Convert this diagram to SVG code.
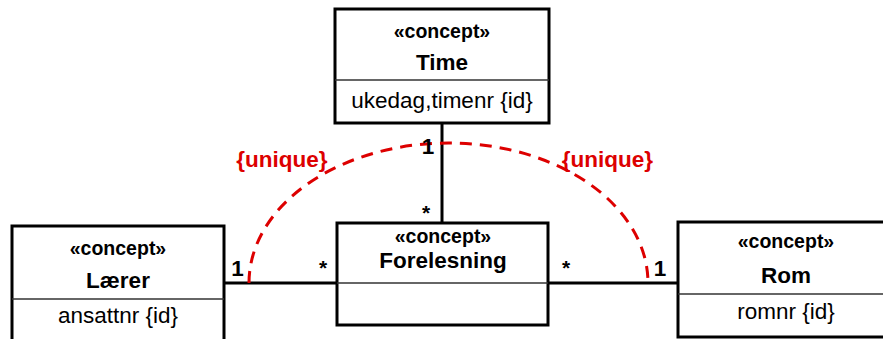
<svg xmlns="http://www.w3.org/2000/svg" width="883" height="339" viewBox="0 0 883 339">
<style>
.box{fill:#fff;stroke:#000;stroke-width:3}
.sep{stroke:#333;stroke-width:1.5}
.st{font-family:"Liberation Sans",Arial,sans-serif;font-weight:bold;font-size:19.5px;text-anchor:middle;fill:#000}
.nm{font-family:"Liberation Sans",Arial,sans-serif;font-weight:bold;font-size:22.5px;text-anchor:middle;fill:#000}
.at{font-family:"Liberation Sans",Arial,sans-serif;font-size:22.5px;text-anchor:middle;fill:#000}
.mul{font-family:"Liberation Sans",Arial,sans-serif;font-weight:bold;font-size:22.5px;text-anchor:middle;fill:#000}
.ast{font-family:"Liberation Sans",Arial,sans-serif;font-weight:bold;font-size:21px;text-anchor:middle;fill:#000}
.con{stroke:#000;stroke-width:3;fill:none}
.uq{fill:none;stroke:#dd0000;stroke-width:3;stroke-dasharray:12 8}
.uqt{font-family:"Liberation Sans",Arial,sans-serif;font-weight:bold;font-size:22.5px;text-anchor:middle;fill:#dd0000}
</style>
<rect width="883" height="339" fill="#fff"/>
<g id="connectors">
<line class="con" x1="442" y1="123" x2="442" y2="223"/>
<line class="con" x1="224" y1="283" x2="337" y2="283"/>
<line class="con" x1="548" y1="283" x2="678" y2="283"/>
</g>
<g id="constraint">
<path class="uq" d="M 249 283 A 199.5 140 0 0 1 648 283"/>
<text class="uqt" x="282" y="167">{unique}</text>
<text class="uqt" x="607.5" y="167">{unique}</text>
</g>
<g id="time">
<rect class="box" x="335" y="9" width="214" height="114"/>
<line class="sep" x1="335" y1="80" x2="549" y2="80"/>
<text class="st" x="442" y="38">«concept»</text>
<text class="nm" x="442" y="70">Time</text>
<text class="at" x="442" y="108">ukedag,timenr {id}</text>
</g>
<g id="laerer">
<rect class="box" x="12" y="226" width="212" height="125"/>
<line class="sep" x1="12" y1="299" x2="224" y2="299"/>
<text class="st" x="118" y="255">«concept»</text>
<text class="nm" x="118" y="288">Lærer</text>
<text class="at" x="118" y="323">ansattnr {id}</text>
</g>
<g id="forelesning">
<rect class="box" x="337" y="223" width="211" height="102"/>
<line class="sep" x1="337" y1="283" x2="548" y2="283"/>
<text class="st" x="443" y="243">«concept»</text>
<text class="nm" x="443" y="268">Forelesning</text>
</g>
<g id="rom">
<rect class="box" x="678" y="222" width="215" height="115"/>
<line class="sep" x1="678" y1="294" x2="893" y2="294"/>
<text class="st" x="786" y="248">«concept»</text>
<text class="nm" x="786" y="283">Rom</text>
<text class="at" x="786" y="319">romnr {id}</text>
</g>
<g id="multiplicities">
<text class="mul" x="428" y="154">1</text>
<text class="ast" x="426" y="220">*</text>
<text class="mul" x="237.5" y="276">1</text>
<text class="ast" x="323" y="275">*</text>
<text class="ast" x="566" y="275">*</text>
<text class="mul" x="660" y="276">1</text>
</g>
</svg>
